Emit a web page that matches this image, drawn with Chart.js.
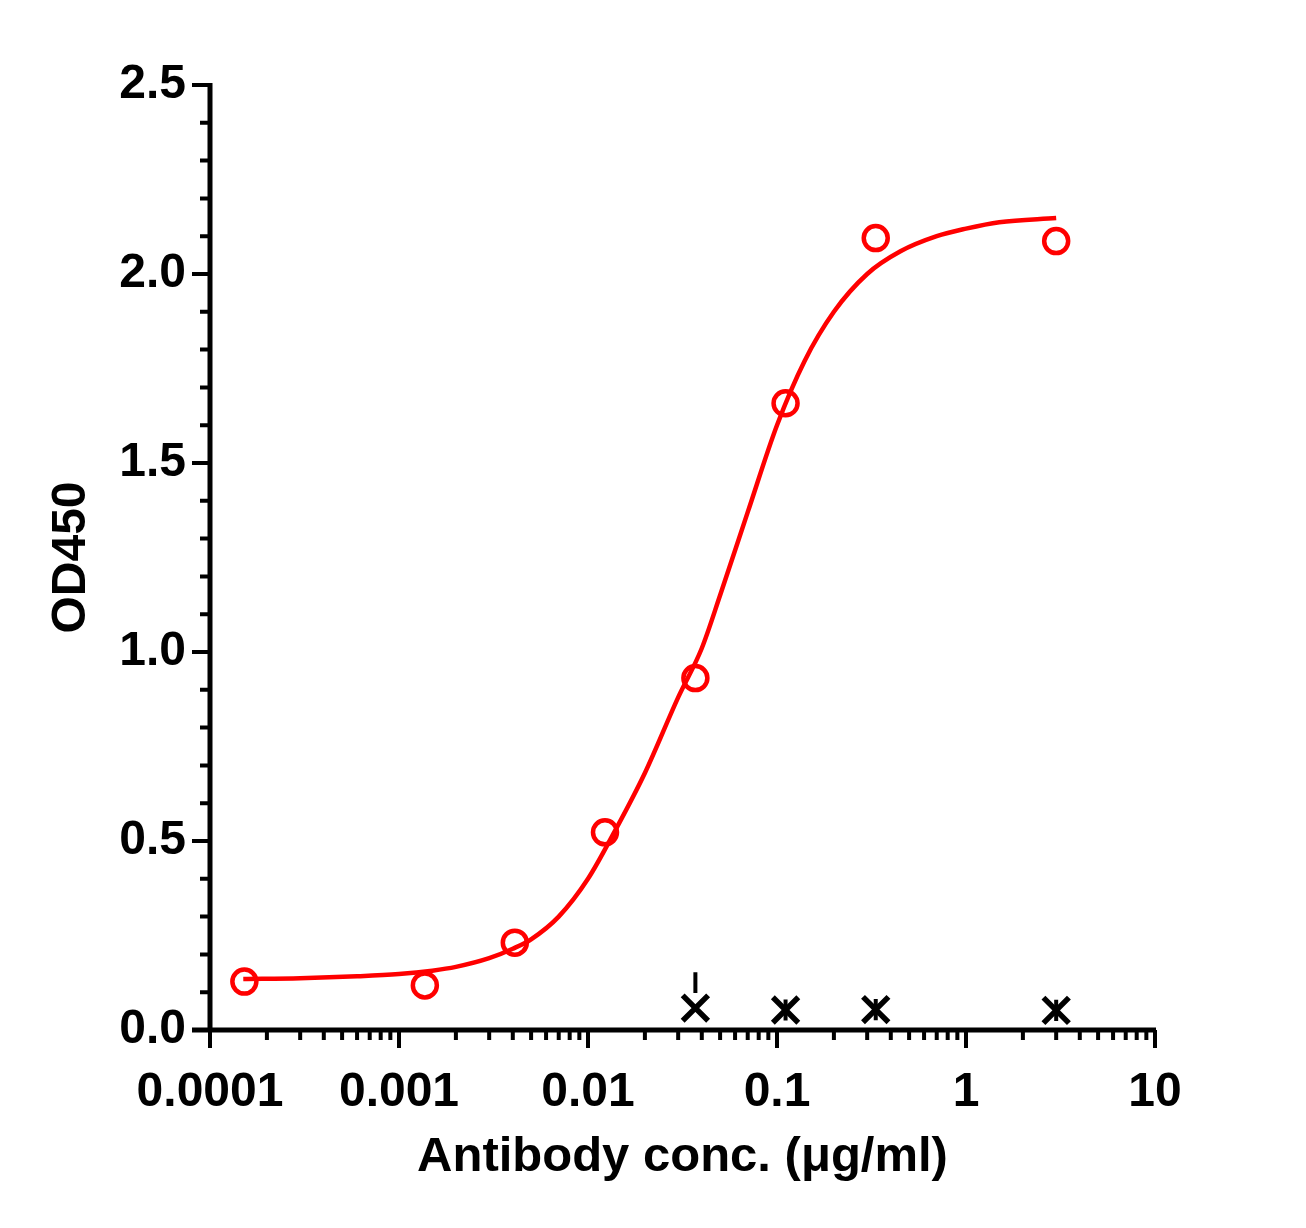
<!DOCTYPE html>
<html>
<head>
<meta charset="utf-8">
<script src="https://cdn.jsdelivr.net/npm/chart.js@4/dist/chart.umd.min.js"></script>
<style>
  html, body { margin: 0; padding: 0; background: #fff; }
  #wrap { width: 1306px; height: 1228px; }
</style>
</head>
<body>
<div id="wrap"><canvas id="elisa_chart" width="1306" height="1228"></canvas></div>
<script>
// measured points (antibody)
var concX = [0.000152, 0.00137, 0.0041, 0.0123, 0.037, 0.111, 0.333, 3];
var od450 = [0.128, 0.118, 0.231, 0.523, 0.931, 1.658, 2.095, 2.087];

// fitted curve
var fitX = [0.00015, 0.0003, 0.0006, 0.001, 0.0015, 0.002, 0.003, 0.004, 0.005, 0.007,
            0.01, 0.014, 0.02, 0.03, 0.04, 0.05, 0.07, 0.1, 0.14, 0.2,
            0.3, 0.45, 0.7, 1, 1.5, 3];
var fitY = [0.135, 0.137, 0.142, 0.148, 0.157, 0.167, 0.19, 0.215, 0.24, 0.30,
            0.40, 0.53, 0.68, 0.88, 1.01, 1.15, 1.37, 1.60, 1.77, 1.90,
            2.00, 2.06, 2.10, 2.12, 2.137, 2.148];

// negative control
var negX = [0.037, 0.111, 0.333, 3];
var negY = [0.058, 0.053, 0.054, 0.052];
var negErr = [0.095, 0.028, 0.028, 0.028];

var xMajor = [0.0001, 0.001, 0.01, 0.1, 1, 10];
var xTickLabels = ['0.0001', '0.001', '0.01', '0.1', '1', '10'];
var yMajor = [0, 0.5, 1, 1.5, 2, 2.5];

function pts(xs, ys){
    return xs.map(function(x, i){ return {x: x, y: ys[i]}; });
}

var FONT = '"Liberation Sans", Arial, sans-serif';

// axis lines + major/minor ticks drawn through the scales
var axesPlugin = {
    id: 'axesPlugin',
    afterDraw: function(chart){
        var ctx = chart.ctx, xs = chart.scales.x, ys = chart.scales.y;
        var a = chart.chartArea;
        ctx.save();
        ctx.strokeStyle = '#000';
        ctx.lineCap = 'butt';
        ctx.lineWidth = 5;
        ctx.beginPath();
        ctx.moveTo(a.left, a.top - 2);
        ctx.lineTo(a.left, a.bottom + 2.5);
        ctx.moveTo(a.left - 18, a.bottom);
        ctx.lineTo(a.right + 1, a.bottom);
        ctx.stroke();

        ctx.lineWidth = 4;
        ctx.beginPath();
        // y ticks every 0.1
        for (var i = 0; i <= 25; i++){
            var v = i / 10;
            var py = ys.getPixelForValue(v);
            var len = (i % 5 === 0) ? 18 : 10;
            ctx.moveTo(a.left - len, py);
            ctx.lineTo(a.left, py);
        }
        // x ticks, decades + 2..9
        for (var d = 0; d < xMajor.length; d++){
            var base = xMajor[d];
            var px = xs.getPixelForValue(base);
            ctx.moveTo(px, a.bottom);
            ctx.lineTo(px, a.bottom + 18);
            if (d === xMajor.length - 1) break;
            for (var m = 2; m <= 9; m++){
                var mx = xs.getPixelForValue(base * m);
                ctx.moveTo(mx, a.bottom);
                ctx.lineTo(mx, a.bottom + 10);
            }
        }
        ctx.stroke();

        // error bars of the negative control
        var r = 13;
        ctx.beginPath();
        ctx.rect(a.left, a.top, a.right - a.left, a.bottom - a.top - 8);
        ctx.clip();
        ctx.lineWidth = 4;
        ctx.beginPath();
        for (var k = 0; k < negX.length; k++){
            var cx = xs.getPixelForValue(negX[k]);
            var cy = ys.getPixelForValue(negY[k]);
            var up = ys.getPixelForValue(negY[k] + negErr[k]);
            var dn = ys.getPixelForValue(negY[k] - negErr[k]);
            if (cy - up > r){
                ctx.moveTo(cx, cy - r - 2);
                ctx.lineTo(cx, up);
                ctx.moveTo(cx, cy + r + 2);
                ctx.lineTo(cx, dn);
            } else {
                ctx.moveTo(cx, up);
                ctx.lineTo(cx, dn);
            }
        }
        ctx.stroke();
        ctx.restore();
    }
};

var ctx = document.getElementById('elisa_chart').getContext('2d');
var chart = new Chart(ctx, {
    type: 'scatter',
    data: {
        datasets: [{
            label: 'fit',
            data: pts(fitX, fitY),
            showLine: true,
            borderColor: '#ff0000',
            borderWidth: 4.5,
            pointRadius: 0,
            cubicInterpolationMode: 'monotone',
            order: 2
        }, {
            label: 'Antibody',
            data: pts(concX, od450),
            pointStyle: 'circle',
            pointRadius: 12,
            borderWidth: 4.5,
            borderColor: '#ff0000',
            backgroundColor: 'rgba(0,0,0,0)',
            order: 1
        }, {
            label: 'Negative control',
            data: pts(negX, negY),
            pointStyle: 'crossRot',
            pointRadius: 18,
            borderWidth: 5.5,
            borderColor: '#000000',
            order: 0
        }]
    },
    options: {
        responsive: false,
        animation: false,
        devicePixelRatio: 1,
        layout: { padding: { left: 0, right: 151, top: 85, bottom: 0 } },
        plugins: {
            legend: { display: false },
            tooltip: { enabled: false }
        },
        scales: {
            x: {
                type: 'logarithmic',
                min: 0.0001,
                max: 10,
                grid: { display: false, drawTicks: false },
                border: { display: false },
                afterBuildTicks: function(scale){
                    scale.ticks = xMajor.map(function(v){ return {value: v}; });
                },
                afterFit: function(scale){ scale.height = 198; },
                ticks: {
                    autoSkip: false,
                    maxRotation: 0,
                    padding: 34,
                    color: '#000',
                    font: { family: FONT, size: 48, weight: 'bold' },
                    callback: function(v){
                        var i = xMajor.indexOf(v);
                        return i >= 0 ? xTickLabels[i] : '';
                    }
                },
                title: {
                    display: true,
                    text: 'Antibody conc. (μg/ml)',
                    color: '#000',
                    font: { family: FONT, size: 49, weight: 'bold' },
                    padding: { top: 0, bottom: 41 }
                }
            },
            y: {
                min: 0,
                max: 2.5,
                grid: { display: false, drawTicks: false },
                border: { display: false },
                afterBuildTicks: function(scale){
                    scale.ticks = yMajor.map(function(v){ return {value: v}; });
                },
                afterFit: function(scale){ scale.width = 210; },
                ticks: {
                    padding: 24,
                    color: '#000',
                    font: { family: FONT, size: 48, weight: 'bold' },
                    callback: function(v){ return v.toFixed(1); }
                },
                title: {
                    display: true,
                    text: 'OD450',
                    color: '#000',
                    font: { family: FONT, size: 48, weight: 'bold' },
                    padding: { top: 43, bottom: 0 }
                }
            }
        }
    },
    plugins: [axesPlugin]
});
</script>
</body>
</html>
